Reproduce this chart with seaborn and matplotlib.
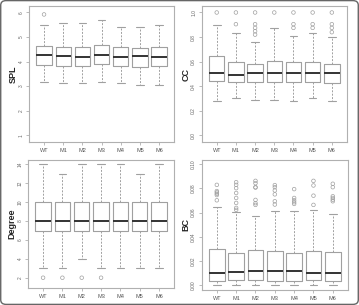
import numpy as np
import pandas as pd
import matplotlib
matplotlib.use("Agg")
import matplotlib.pyplot as plt
from matplotlib.patches import FancyBboxPatch
import seaborn as sns

groups = ['WT', 'M1', 'M2', 'M3', 'M4', 'M5', 'M6']

# SPL: lower whisker, Q1, median, Q3, upper whisker, outliers
spl_lo = [3.16, 3.12, 3.11, 3.16, 3.12, 3.06, 3.06]
spl_q1 = [3.86, 3.83, 3.82, 3.90, 3.82, 3.79, 3.82]
spl_med = [4.28, 4.24, 4.20, 4.27, 4.18, 4.22, 4.18]
spl_q3 = [4.62, 4.59, 4.58, 4.66, 4.58, 4.55, 4.58]
spl_hi = [5.51, 5.58, 5.58, 5.71, 5.41, 5.41, 5.47]
spl_out = [[5.92], [], [], [], [], [], []]

# CC
cc_lo = [0.283, 0.304, 0.290, 0.290, 0.283, 0.302, 0.283]
cc_q1 = [0.443, 0.432, 0.437, 0.432, 0.432, 0.437, 0.427]
cc_med = [0.505, 0.489, 0.505, 0.505, 0.505, 0.505, 0.505]
cc_q3 = [0.647, 0.600, 0.584, 0.609, 0.600, 0.600, 0.579]
cc_hi = [0.902, 0.837, 0.764, 0.870, 0.810, 0.837, 0.804]
cc_out = [[1.0], [1.0, 0.905], [1.0, 0.905, 0.875, 0.848, 0.82], [1.0],
          [1.0, 0.905, 0.875], [1.0, 0.905, 0.875], [1.0, 0.905, 0.875, 0.84]]

# Degree
deg_lo = [3, 3, 4, 3, 3, 3, 3]
deg_q1 = [7, 7, 7, 7, 7, 7, 7]
deg_med = [8, 8, 8, 8, 8, 8, 8]
deg_q3 = [10, 10, 10, 10, 10, 10, 10]
deg_hi = [14, 13, 14, 14, 14, 13, 14]
deg_out = [[2], [2], [2], [2], [], [], []]

# BC
bc_lo = [0.0, 0.0, 0.0, 0.0, 0.0, 0.0, 0.0]
bc_q1 = [0.0035, 0.0041, 0.0041, 0.0038, 0.0038, 0.0041, 0.0038]
bc_med = [0.0106, 0.0108, 0.0117, 0.0117, 0.0119, 0.0106, 0.0106]
bc_q3 = [0.0301, 0.0266, 0.0290, 0.0282, 0.0266, 0.0282, 0.0279]
bc_hi = [0.0648, 0.0604, 0.0569, 0.0615, 0.0610, 0.0618, 0.0593]
bc_out = [[0.0829, 0.0778, 0.0767, 0.0756, 0.0745, 0.0702],
          [0.0851, 0.0829, 0.0802, 0.0762, 0.0721, 0.0680, 0.0639, 0.0623],
          [0.0862, 0.0843, 0.0810, 0.0807, 0.0705, 0.0678, 0.0664],
          [0.0827, 0.0810, 0.0783, 0.0751, 0.0694, 0.0667],
          [0.0794, 0.0721, 0.0702, 0.0686, 0.0672],
          [0.0862, 0.0824, 0.0740, 0.0664],
          [0.0838, 0.0810, 0.0735, 0.0721, 0.0707, 0.0694]]

panels = [
    ('SPL', spl_lo, spl_q1, spl_med, spl_q3, spl_hi, spl_out, [1, 2, 3, 4, 5, 6], (0.72, 6.26)),
    ('CC', cc_lo, cc_q1, cc_med, cc_q3, cc_hi, cc_out, [0.0, 0.2, 0.4, 0.6, 0.8, 1.0], (-0.054, 1.052)),
    ('Degree', deg_lo, deg_q1, deg_med, deg_q3, deg_hi, deg_out, [2, 4, 6, 8, 10, 12, 14], (0.92, 14.46)),
    ('BC', bc_lo, bc_q1, bc_med, bc_q3, bc_hi, bc_out, [0.00, 0.02, 0.04, 0.06, 0.08, 0.10], (-0.0038, 0.1038)),
]

positions = [
    [0.081, 0.534, 0.404, 0.446],
    [0.562, 0.534, 0.404, 0.446],
    [0.078, 0.056, 0.407, 0.419],
    [0.562, 0.049, 0.407, 0.428],
]

sns.set_style('white')
plt.rcParams['font.family'] = ['Liberation Sans', 'DejaVu Sans']

grey = '#a0a0a0'
fig = plt.figure(figsize=(3.59, 3.05), dpi=100)

for (name, lo, q1, med, q3, hi, out, ticks, ylim), pos in zip(panels, positions):
    ax = fig.add_axes(pos)
    # five-number summary per group, drawn with whiskers to min/max
    box_df = pd.DataFrame({
        'group': np.repeat(groups, 5),
        'value': np.ravel(np.column_stack([lo, q1, med, q3, hi])),
    })
    sns.boxplot(data=box_df, x='group', y='value', order=groups, whis=(0, 100),
                width=0.8, fill=False, color=grey, linewidth=0.8, fliersize=0,
                medianprops={'color': '#333333', 'linewidth': 1.4},
                whiskerprops={'color': grey, 'linestyle': (0, (2, 1.5)), 'linewidth': 0.7},
                capprops={'color': grey, 'linewidth': 0.8},
                boxprops={'color': grey, 'linewidth': 0.8},
                ax=ax)
    out_df = pd.DataFrame({
        'group': [g for g, vals in zip(groups, out) for _ in vals],
        'value': [v for vals in out for v in vals],
    })
    n_before = len(ax.collections)
    sns.stripplot(data=out_df, x='group', y='value', order=groups, jitter=False,
                  size=2.6, color=grey, linewidth=0.5, edgecolor=grey, ax=ax)
    for coll in ax.collections[n_before:]:
        coll.set_facecolor('none')
        coll.set_edgecolor(grey)

    ax.set_xlim(-0.78, 6.78)
    ax.set_ylim(*ylim)
    ax.set_yticks(ticks)
    if name == 'BC':
        ax.set_yticklabels([f'{t:.2f}' for t in ticks])
    elif name == 'CC':
        ax.set_yticklabels([f'{t:.1f}' for t in ticks])
    else:
        ax.set_yticklabels([str(t) for t in ticks])
    ax.tick_params(axis='y', labelsize=3.5, labelrotation=90, length=2.5, width=0.5,
                   color=grey, labelcolor='#666666', pad=1.5, left=True)
    for lab in ax.get_yticklabels():
        lab.set_verticalalignment('center')
    ax.tick_params(axis='x', labelsize=4, length=2.5, width=0.5, color=grey,
                   labelcolor='#555555', pad=2, bottom=True)
    ax.set_xlabel('')
    ax.set_ylabel(name, fontsize=6.5, fontweight='bold')
    ax.yaxis.set_label_coords(-0.08, 0.5)
    for sp in ax.spines.values():
        sp.set_color('#b0b0b0')
        sp.set_linewidth(0.8)

fig.patches.append(FancyBboxPatch((0.002, 0.002), 0.996, 0.996,
                                  boxstyle='round,pad=0,rounding_size=0.015',
                                  transform=fig.transFigure, fill=False,
                                  edgecolor='#666666', linewidth=1.0))

fig.savefig('out.png', dpi=100)
